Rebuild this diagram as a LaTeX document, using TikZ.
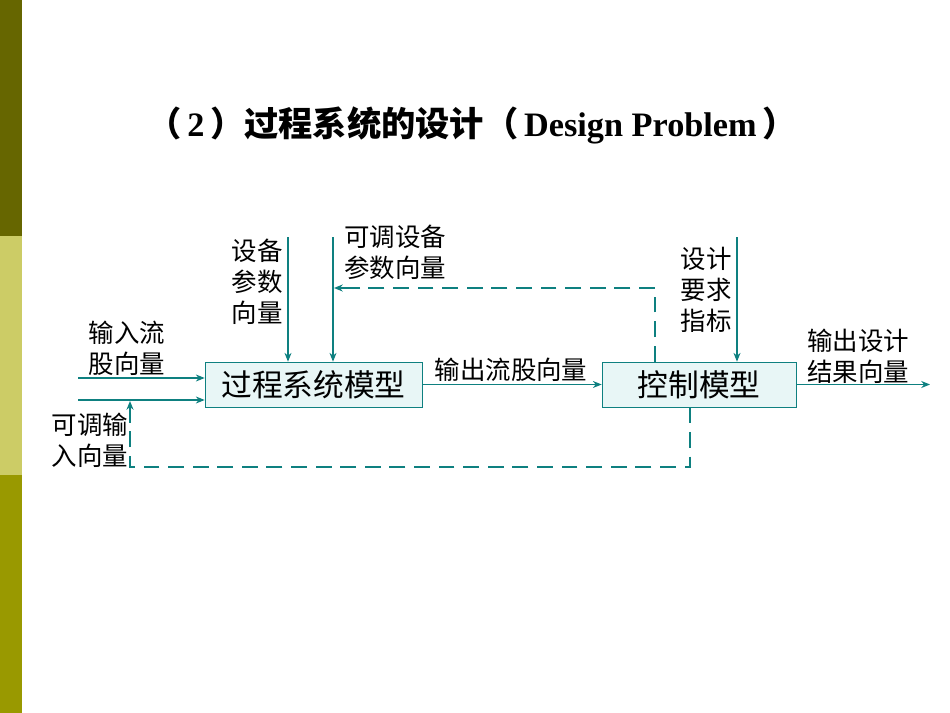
\documentclass[tikz,border=0pt]{standalone}
\usepackage{fontspec}
\setmainfont{Liberation Serif}
\newfontfamily\cjk{Noto Sans CJK SC}
\usetikzlibrary{arrows.meta}
\definecolor{teal1}{HTML}{0E8080}
\definecolor{boxfill}{HTML}{E8F6F6}
\begin{document}
\begin{tikzpicture}[x=0.02cm,y=-0.02cm,
  lbl/.style={font=\cjk\fontsize{14.5}{17.5}\selectfont,align=center,inner sep=0pt},
  blk/.style={draw=teal1,fill=boxfill,font=\cjk\fontsize{17.5}{20}\selectfont,minimum height=0.9cm,inner sep=0pt},
  arr/.style={teal1,-{Stealth[length=5pt,width=4pt]},line width=0.7pt},
  dsh/.style={teal1,dash pattern=on 9pt off 5pt,line width=0.7pt}]
\useasboundingbox (0,0) rectangle (950,713);
\fill[fill=white] (0,0) rectangle (950,713);
\fill[color={rgb,255:red,102;green,102;blue,0}] (0,0) rectangle (22,236);
\fill[color={rgb,255:red,204;green,204;blue,102}] (0,236) rectangle (22,475);
\fill[color={rgb,255:red,153;green,153;blue,0}] (0,475) rectangle (22,713);
\node[inner sep=0pt] (title) at (472,125) {\fontsize{19.5}{22}\selectfont\bfseries{\cjk（}\,2\,{\cjk）过程系统的设计（}\,Design Problem\,{\cjk）}};
\node[blk,minimum width=217*0.02cm] (b1) at (313.5,384.5) {过程系统模型};
\node[blk,minimum width=194*0.02cm] (b2) at (699,384.5) {控制模型};
\coordinate (i1) at (78,378);
\coordinate (i2) at (78,400);
\draw[arr] (i1) -- (i1 -| b1.west);
\draw[arr] (i2) -- (i2 -| b1.west);
\node[lbl] (l1) at (127,348) {输入流\\股向量};
\node[lbl] (l2) at (90,440) {可调输\\入向量};
\coordinate (d1) at (690,467);
\coordinate (d2) at (130,467);
\draw[dsh] (b2.south -| d1) -- (d1) -- (d2) -- (130,420);
\draw[arr] (130,420) -- (130,401);
\coordinate (v1) at (288,237);
\coordinate (v2) at (333,237);
\draw[arr] (v1) -- (v1 |- b1.north);
\draw[arr] (v2) -- (v2 |- b1.north);
\node[lbl] (l3) at (257,282) {设备\\参数\\向量};
\node[lbl] (l4) at (395,252) {可调设备\\参数向量};
\coordinate (u1) at (655,288);
\draw[dsh] (b2.north -| u1) -- (u1) -- (360,288);
\draw[arr] (360,288) -- (334,288);
\draw[arr] (b1.east) -- (b2.west);
\node[lbl] (l5) at (511,370) {输出流股向量};
\coordinate (v3) at (737,237);
\draw[arr] (v3) -- (v3 |- b2.north);
\node[lbl] (l6) at (706,290) {设计\\要求\\指标};
\coordinate (o) at (930,384.5);
\draw[arr] (b2.east) -- (o);
\node[lbl] (l7) at (858,356) {输出设计\\结果向量};
\end{tikzpicture}
\end{document}
